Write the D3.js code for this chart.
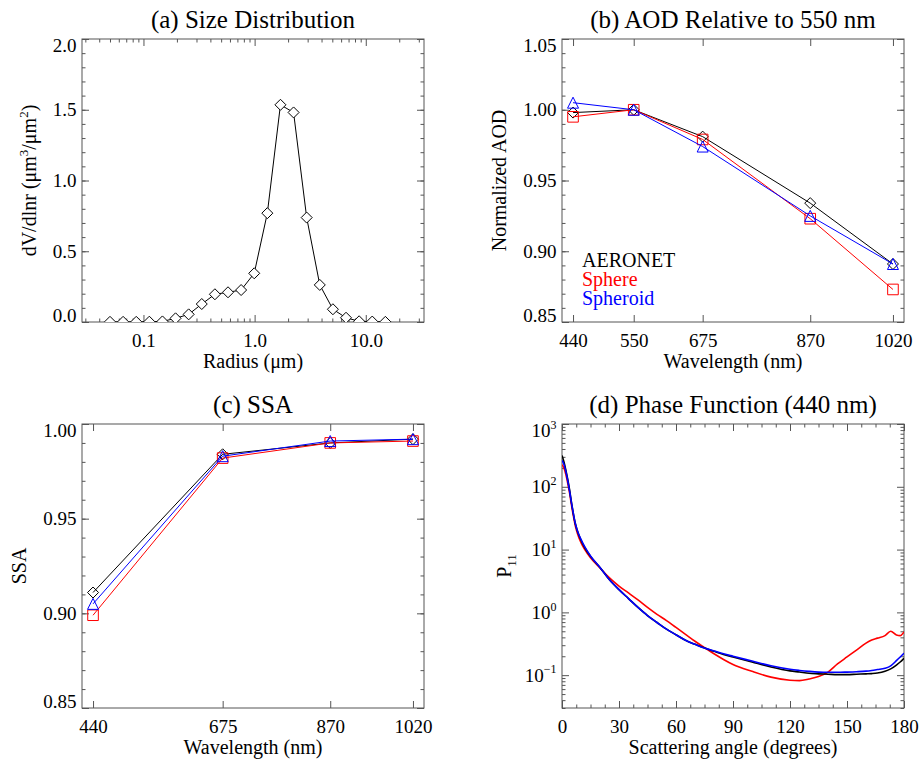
<!DOCTYPE html>
<html>
<head>
<meta charset="utf-8">
<title>AERONET retrieval comparison</title>
<script src="https://cdn.jsdelivr.net/npm/d3@7"></script>
<style>
body { margin: 0; background: #fff; }
</style>
</head>
<body>
<svg id="chart" width="924" height="762" font-family="'Liberation Serif', 'DejaVu Serif', 'Times New Roman', Times, serif"></svg>
<script>
// (a) size distribution, AERONET 22 radius bins
var radius = [0.05, 0.0656, 0.0861, 0.1129, 0.1482, 0.1944, 0.2551, 0.3347, 0.4392, 0.5762, 0.7561,
  0.9920, 1.3016, 1.7078, 2.2407, 2.9400, 3.8575, 5.0613, 6.6407, 8.7131, 11.4323, 15.0];
var dvdlnr = [0.001, 0.001, 0.001, 0.002, 0.004, 0.026, 0.054, 0.127, 0.196, 0.21, 0.226,
  0.344, 0.769, 1.535, 1.481, 0.738, 0.262, 0.09, 0.03, 0.005, 0.003, 0.001];

// (b) AOD normalised at 550 nm
var aodWl = [440, 550, 675, 870, 1020];
var aodAeronet = [0.998, 1.000, 0.981, 0.934, 0.891];
var aodSphere = [0.995, 1.000, 0.979, 0.923, 0.873];
var aodSpheroid = [1.005, 1.000, 0.974, 0.925, 0.891];

// (c) single scattering albedo
var ssaWl = [440, 675, 870, 1020];
var ssaAeronet = [0.911, 0.984, 0.990, 0.992];
var ssaSphere = [0.899, 0.982, 0.990, 0.991];
var ssaSpheroid = [0.905, 0.983, 0.991, 0.992];

// (d) phase function at 440 nm
var angle = [0, 1, 2, 3, 4, 5, 6, 7, 8, 10, 12, 15, 20, 25, 30, 35, 40, 45, 50, 55, 60, 65, 70, 75,
  80, 85, 90, 100, 110, 120, 125, 130, 135, 140, 145, 150, 155, 160, 163, 166, 170, 173, 176, 178, 180];
var p11Aeronet = [316, 251, 186, 132, 89, 56, 37, 26, 20.4, 14.1, 10.7, 7.8, 5.2, 3.3, 2.3, 1.66, 1.20, 0.89,
  0.69, 0.54, 0.44, 0.36, 0.31, 0.27, 0.24, 0.214, 0.195, 0.162, 0.135, 0.117, 0.112, 0.107, 0.105,
  0.1035, 0.102, 0.102, 0.1035, 0.105, 0.106, 0.108, 0.115, 0.126, 0.145, 0.162, 0.186];
var p11Sphere = [224, 200, 158, 115, 79, 51, 34, 24, 18.6, 12.9, 10.0, 7.4, 5.1, 3.55, 2.63, 2.04, 1.58, 1.20,
  0.93, 0.74, 0.575, 0.447, 0.347, 0.275, 0.219, 0.178, 0.148, 0.115, 0.093, 0.083, 0.082, 0.087, 0.095,
  0.112, 0.151, 0.195, 0.251, 0.324, 0.363, 0.389, 0.427, 0.50, 0.437, 0.427, 0.49];
var p11Spheroid = [263, 229, 178, 126, 85, 55, 37, 26, 20.4, 14.5, 11.0, 7.9, 5.2, 3.3, 2.3, 1.66, 1.20, 0.89,
  0.69, 0.54, 0.44, 0.36, 0.31, 0.27, 0.243, 0.219, 0.20, 0.168, 0.141, 0.124, 0.119, 0.115, 0.112,
  0.111, 0.111, 0.112, 0.1135, 0.116, 0.119, 0.123, 0.129, 0.141, 0.170, 0.195, 0.224];

var svg = d3.select("#chart");
var grey = "#555";

function marker(type, r) {
  if (type == "diamond") return "M0," + (-r) + "L" + r + ",0L0," + r + "L" + (-r) + ",0Z";
  if (type == "square") return "M" + (-r) + "," + (-r) + "H" + r + "V" + r + "H" + (-r) + "Z";
  return "M0," + (-r) + "L" + r + "," + r + "H" + (-r) + "Z";
}

function panel(p) {
  return svg.append("g").attr("transform", "translate(" + p.x + "," + p.y + ")");
}

function axes(g, p, x, y, o) {
  var add = function(axis, tx, ty) {
    var a = g.append("g").attr("transform", "translate(" + tx + "," + ty + ")").call(axis);
    a.select(".domain").remove();
    a.attr("font-family", null).attr("font-size", null);
    a.selectAll("line").attr("stroke", grey);
    return a;
  };
  var bx = add(d3.axisBottom(x).tickValues(o.xt).tickFormat(o.xf).tickSize(-7).tickPadding(11.5), 0, p.h);
  add(d3.axisBottom(x).tickValues(o.xm).tickFormat("").tickSize(-3.5), 0, p.h);
  add(d3.axisTop(x).tickValues(o.xt).tickFormat("").tickSize(-7), 0, 0);
  add(d3.axisTop(x).tickValues(o.xm).tickFormat("").tickSize(-3.5), 0, 0);
  var ly = add(d3.axisLeft(y).tickValues(o.yt).tickFormat(o.yf).tickSize(-7).tickPadding(5.5), 0, 0);
  add(d3.axisLeft(y).tickValues(o.ym).tickFormat("").tickSize(-3.5), 0, 0);
  add(d3.axisRight(y).tickValues(o.yt).tickFormat("").tickSize(-7), p.w, 0);
  add(d3.axisRight(y).tickValues(o.ym).tickFormat("").tickSize(-3.5), p.w, 0);
  bx.selectAll("text").attr("font-size", 19);
  ly.selectAll("text").attr("font-size", 19)
    .attr("y", function(d) { var v = y(d); return v < 3 ? 6.5 : (v > p.h - 3 ? -6.5 : 0); });
  g.append("rect").attr("width", p.w).attr("height", p.h)
    .attr("fill", "none").attr("stroke", grey);
  return ly;
}

function titles(g, p, t, xl, ylx) {
  g.append("text").attr("x", p.w / 2).attr("y", -11).attr("text-anchor", "middle")
    .attr("font-size", 25).text(t);
  g.append("text").attr("x", p.w / 2).attr("y", p.h + 46).attr("text-anchor", "middle")
    .attr("font-size", 20).text(xl);
  return g.append("text").attr("text-anchor", "middle").attr("font-size", 20)
    .attr("transform", "translate(" + ylx + "," + (p.h / 2) + ") rotate(-90)");
}

function series(g, x, y, xs, ys, color, sym, r, fill) {
  var pts = xs.map(function(v, i) { return [v, ys[i]]; });
  g.append("path").datum(pts)
    .attr("d", d3.line().x(function(d) { return x(d[0]); }).y(function(d) { return y(d[1]); }))
    .attr("fill", "none").attr("stroke", color).attr("stroke-width", 1);
  g.selectAll(null).data(pts).enter().append("path")
    .attr("transform", function(d) { return "translate(" + x(d[0]) + "," + y(d[1]) + ")"; })
    .attr("d", marker(sym, r))
    .attr("fill", fill || "none").attr("stroke", color).attr("stroke-width", 1);
}

function logMinor(lo, hi) {
  var out = [];
  for (var e = Math.floor(Math.log10(lo)); e <= Math.ceil(Math.log10(hi)); e++) {
    for (var k = 2; k <= 9; k++) {
      var v = k * Math.pow(10, e);
      if (v >= lo && v <= hi) out.push(v);
    }
  }
  return out;
}

// ---------- (a) ----------
var pa = {x: 82, y: 39, w: 342, h: 283};
var ga = panel(pa);
var xa = d3.scaleLog().domain([0.028, 33.4]).range([0, pa.w]);
var ya = d3.scaleLinear().domain([0, 2]).range([pa.h, 0]);
axes(ga, pa, xa, ya, {
  xt: [0.1, 1, 10], xf: d3.format(".1f"), xm: logMinor(0.028, 33.4),
  yt: [0, 0.5, 1, 1.5, 2], yf: d3.format(".1f"), ym: d3.range(0.1, 2, 0.1)
});
var yla = titles(ga, pa, "(a) Size Distribution", "Radius (\u03bcm)", -46);
yla.append("tspan").text("dV/dlnr (\u03bcm");
yla.append("tspan").attr("font-size", 13).attr("dy", -8).text("3");
yla.append("tspan").attr("dy", 8).text("/\u03bcm");
yla.append("tspan").attr("font-size", 13).attr("dy", -8).text("2");
yla.append("tspan").attr("dy", 8).text(")");
ga.append("clipPath").attr("id", "clipa").append("rect").attr("width", pa.w).attr("height", pa.h);
var da = ga.append("g").attr("clip-path", "url(#clipa)");
series(da, xa, ya, radius, dvdlnr, "#000", "diamond", 5.5, "#fff");

// ---------- (b) ----------
var pb = {x: 562, y: 39, w: 342, h: 283};
var gb = panel(pb);
var xb = d3.scaleLinear().domain([420, 1040]).range([0, pb.w]);
var yb = d3.scaleLinear().domain([0.85, 1.05]).range([pb.h, 0]);
axes(gb, pb, xb, yb, {
  xt: aodWl, xf: d3.format("d"), xm: [],
  yt: [0.85, 0.9, 0.95, 1.0, 1.05], yf: d3.format(".2f"), ym: d3.range(0.86, 1.05, 0.01)
});
titles(gb, pb, "(b) AOD Relative to 550 nm", "Wavelength (nm)", -56).text("Normalized AOD");
series(gb, xb, yb, aodWl, aodAeronet, "#000", "diamond", 5.5);
series(gb, xb, yb, aodWl, aodSphere, "#ff0000", "square", 5.3);
series(gb, xb, yb, aodWl, aodSpheroid, "#0000ff", "triangle", 5.5);
var legend = [["AERONET", "#000"], ["Sphere", "#ff0000"], ["Spheroid", "#0000ff"]];
gb.selectAll(null).data(legend).enter().append("text")
  .attr("x", 20).attr("y", function(d, i) { return 228 + i * 19; })
  .attr("font-size", 20).style("fill", function(d) { return d[1]; })
  .text(function(d) { return d[0]; });

// ---------- (c) ----------
var pc = {x: 82, y: 424, w: 342, h: 284};
var gc = panel(pc);
var xc = d3.scaleLinear().domain([420, 1040]).range([0, pc.w]);
var yc = d3.scaleLinear().domain([0.85, 1.0]).range([pc.h, 0]);
axes(gc, pc, xc, yc, {
  xt: ssaWl, xf: d3.format("d"), xm: [],
  yt: [0.85, 0.9, 0.95, 1.0], yf: d3.format(".2f"), ym: d3.range(0.86, 1.0, 0.01)
});
titles(gc, pc, "(c) SSA", "Wavelength (nm)", -56).text("SSA");
series(gc, xc, yc, ssaWl, ssaAeronet, "#000", "diamond", 5.5);
series(gc, xc, yc, ssaWl, ssaSphere, "#ff0000", "square", 5.3);
series(gc, xc, yc, ssaWl, ssaSpheroid, "#0000ff", "triangle", 5.5);

// ---------- (d) ----------
var pd = {x: 562, y: 424, w: 342, h: 284};
var gd = panel(pd);
var xd = d3.scaleLinear().domain([0, 180]).range([0, pd.w]);
var yd = d3.scaleLog().domain([0.03, 1000]).range([pd.h, 0]);
var lyd = axes(gd, pd, xd, yd, {
  xt: d3.range(0, 181, 30), xf: d3.format("d"), xm: d3.range(7.5, 180, 7.5),
  yt: [0.1, 1, 10, 100, 1000], yf: d3.format("d"), ym: logMinor(0.03, 1000)
});
lyd.selectAll("text").each(function(d) {
  var e = Math.round(Math.log10(d));
  var t = d3.select(this).text("");
  t.append("tspan").text("10");
  t.append("tspan").attr("font-size", 12).attr("dy", "-0.7em").text(e < 0 ? "\u2212" + (-e) : e);
});
var yld = titles(gd, pd, "(d) Phase Function (440 nm)", "Scattering angle (degrees)", -51);
yld.append("tspan").text("P");
yld.append("tspan").attr("font-size", 13).attr("dy", 5).text("11");
gd.append("clipPath").attr("id", "clipd").append("rect").attr("width", pd.w).attr("height", pd.h);
var dd = gd.append("g").attr("clip-path", "url(#clipd)");
var pline = d3.line().curve(d3.curveMonotoneX)
  .x(function(d) { return xd(d[0]); }).y(function(d) { return yd(d[1]); });
[[p11Sphere, "#ff0000"], [p11Aeronet, "#000"], [p11Spheroid, "#0000ff"]].forEach(function(s) {
  dd.append("path").datum(angle.map(function(a, i) { return [a, s[0][i]]; }))
    .attr("d", pline).attr("fill", "none").attr("stroke", s[1]).attr("stroke-width", 1.6);
});
</script>
</body>
</html>
